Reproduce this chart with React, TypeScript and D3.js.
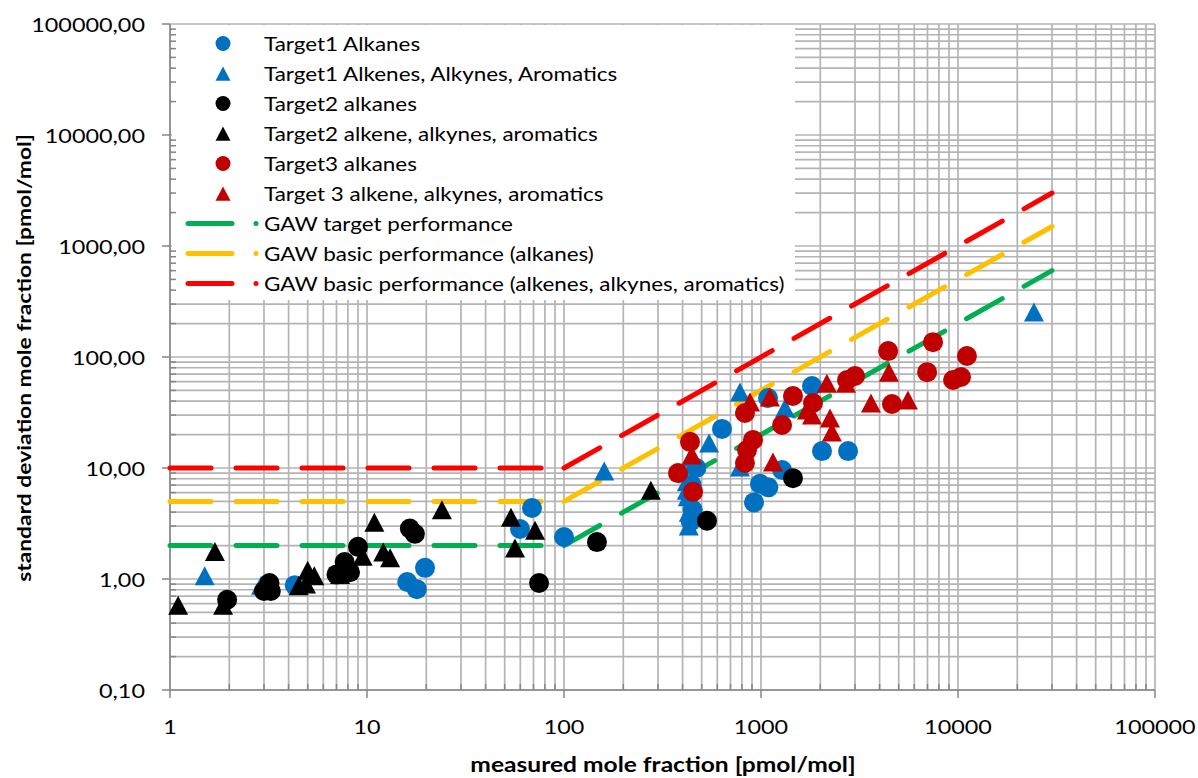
import React from "react";
import * as d3 from "d3";

const W = 1198;
const H = 778;
const PLOT = { left: 170, right: 1155, top: 24, bottom: 690 };

const FONT = "Lato, 'Open Sans', 'DejaVu Sans', sans-serif";
const STRETCH = 1.17;

// Axis domains and tick labels
const xDomain = [1, 100000];
const yDomain = [0.1, 100000];
const xTickValues = [1, 10, 100, 1000, 10000, 100000];
const xTickLabels = ["1", "10", "100", "1000", "10000", "100000"];
const yTickValues = [0.1, 1, 10, 100, 1000, 10000, 100000];
const yTickLabels = ["0,10", "1,00", "10,00", "100,00", "1000,00", "10000,00", "100000,00"];

// Measurements: [measured mole fraction, standard deviation] in pmol/mol
const target1Alkanes: [number, number][] = [
  [4.3, 0.88], [16.0, 0.94], [17.9, 0.81], [19.7, 1.26], [59.8, 2.82], [68.8, 4.36],
  [100, 2.39], [440, 3.3], [450, 4.2], [445, 7.0], [470, 10.0], [634, 22.5],
  [921, 4.9], [988, 7.2], [1090, 6.7], [1280, 9.6], [1086, 42.7], [1815, 54.8],
  [2040, 14.2], [2766, 14.2],
];
const target1Alkenes: [number, number][] = [
  [1.5, 1.07], [2.9, 0.88], [160, 9.4], [430, 3.0], [430, 4.0], [420, 6.3],
  [425, 5.5], [420, 7.5], [440, 12.5], [545, 16.8], [782, 10.2], [782, 48.4],
  [1324, 34.7], [24300, 254],
];
const target2Alkanes: [number, number][] = [
  [1.95, 0.65], [3.0, 0.78], [3.2, 0.92], [3.25, 0.78], [7.0, 1.1], [7.7, 1.42],
  [8.2, 1.15], [9.0, 1.95], [16.5, 2.85], [17.5, 2.55], [74.7, 0.92], [147, 2.15],
  [532, 3.35], [1453, 8.1],
];
const target2Alkenes: [number, number][] = [
  [1.1, 0.58], [1.69, 1.77], [1.86, 0.58], [4.5, 0.87], [4.9, 0.9], [5.0, 1.2],
  [5.4, 1.07], [7.3, 1.1], [9.5, 1.6], [10.9, 3.25], [12.1, 1.75], [13.1, 1.55],
  [24, 4.2], [53.8, 3.6], [56.4, 1.9], [71.3, 2.75], [276, 6.3],
];
const target3Alkanes: [number, number][] = [
  [379, 9.0], [436, 17.2], [452, 6.1], [829, 11.1], [849, 14.5], [911, 17.9],
  [829, 31.3], [1279, 24.4], [1453, 44.5], [1836, 38.5], [2733, 62], [3000, 67.5],
  [4420, 113], [4620, 37.7], [6970, 73], [7470, 136], [9440, 62], [10360, 66],
  [11100, 102],
];
const target3Alkenes: [number, number][] = [
  [446, 13.1], [880, 39.3], [1110, 43.6], [1150, 11.3], [1710, 33.3], [1815, 30],
  [2160, 58], [2240, 28.2], [2290, 21.1], [2700, 58], [3615, 38.5], [4460, 73],
  [5570, 41],
];

// GAW performance criteria: fixed floor below 100 pmol/mol, relative above
const gawNames = [
  "GAW target performance",
  "GAW basic performance (alkanes)",
  "GAW basic performance (alkenes, alkynes, aromatics)",
];
const gawColors = ["#00B050", "#FFC000", "#FF0000"];
const gawFloor = [2, 5, 10];
const gawRelative = [0.02, 0.05, 0.1];
const gawFlatRange = [1, 100];
const gawSlopeRange = [100, 30000];

const seriesNames = [
  "Target1 Alkanes",
  "Target1 Alkenes, Alkynes, Aromatics",
  "Target2 alkanes",
  "Target2 alkene, alkynes, aromatics",
  "Target3 alkanes",
  "Target 3 alkene, alkynes, aromatics",
];
const seriesColors = ["#0070C0", "#0070C0", "#000000", "#000000", "#C00000", "#C00000"];
const seriesShapes = ["circle", "triangle", "circle", "triangle", "circle", "triangle"];
const seriesData = [target1Alkanes, target1Alkenes, target2Alkanes, target2Alkenes, target3Alkanes, target3Alkenes];

const x = d3.scaleLog().domain(xDomain).range([PLOT.left, PLOT.right]);
const y = d3.scaleLog().domain(yDomain).range([PLOT.bottom, PLOT.top]);

function minorValues(lo: number, hi: number): number[] {
  const out: number[] = [];
  for (let d = lo; d < hi; d *= 10) {
    for (let k = 2; k <= 9; k++) out.push(d * k);
  }
  return out;
}

function Marker({ shape, cx, cy, size, color }: { shape: string; cx: number; cy: number; size: number; color: string }) {
  if (shape === "circle") return <circle cx={cx} cy={cy} r={size / 2} fill={color} />;
  const h = size * 0.95;
  const w = size;
  const p = `M${cx},${cy - h / 2}L${cx + w / 2},${cy + h / 2}L${cx - w / 2},${cy + h / 2}Z`;
  return <path d={p} fill={color} />;
}

function Txt({ x: tx, y: ty, anchor = "start", size, weight = 400, rotate = 0, children }: any) {
  const t = `translate(${tx},${ty})${rotate ? ` rotate(${rotate})` : ""} scale(${STRETCH},1)`;
  return (
    <text transform={t} textAnchor={anchor} fontFamily={FONT} fontSize={size} fontWeight={weight} fill="#000">
      {children}
    </text>
  );
}

export default function App() {
  const xMinor = minorValues(1, 100000);
  const yMinor = minorValues(0.1, 100000);
  const gridColor = "#B4B4B4";
  const axisColor = "#868686";

  const line = d3
    .line<[number, number]>()
    .x((d) => x(d[0]))
    .y((d) => y(d[1]));

  const legendTop = 43.5;
  const legendStep = 30;

  return (
    <svg width={W} height={H} style={{ position: "absolute", left: 0, top: 0, background: "#fff" }}>
      {/* grid */}
      <g stroke={gridColor} strokeWidth={1.7}>
        {[...xMinor, ...xTickValues].map((v, i) => (
          <line key={"gx" + i} x1={x(v)} x2={x(v)} y1={PLOT.top} y2={PLOT.bottom} />
        ))}
        {[...yMinor, ...yTickValues].map((v, i) => (
          <line key={"gy" + i} x1={PLOT.left} x2={PLOT.right} y1={y(v)} y2={y(v)} />
        ))}
      </g>

      {/* legend background */}
      <rect x={PLOT.left + 2} y={PLOT.top + 1} width={623} height={275} fill="#fff" />

      {/* axes */}
      <g stroke={axisColor} strokeWidth={1.5}>
        <line x1={PLOT.left} x2={PLOT.left} y1={PLOT.top} y2={PLOT.bottom} />
        <line x1={PLOT.left} x2={PLOT.right} y1={PLOT.bottom} y2={PLOT.bottom} />
        {yTickValues.map((v, i) => (
          <line key={"ty" + i} x1={PLOT.left - 8} x2={PLOT.left} y1={y(v)} y2={y(v)} />
        ))}
        {yMinor.map((v, i) => (
          <line key={"tym" + i} x1={PLOT.left} x2={PLOT.left + 6} y1={y(v)} y2={y(v)} />
        ))}
        {xTickValues.map((v, i) => (
          <line key={"tx" + i} x1={x(v)} x2={x(v)} y1={PLOT.bottom} y2={PLOT.bottom + 8} />
        ))}
        {xMinor.map((v, i) => (
          <line key={"txm" + i} x1={x(v)} x2={x(v)} y1={PLOT.bottom - 6} y2={PLOT.bottom} />
        ))}
      </g>

      {/* tick labels */}
      {yTickValues.map((v, i) => (
        <Txt key={"ly" + i} x={145} y={y(v) + 8} anchor="end" size={20}>
          {yTickLabels[i]}
        </Txt>
      ))}
      {xTickValues.map((v, i) => (
        <Txt key={"lx" + i} x={x(v)} y={734} anchor="middle" size={20}>
          {xTickLabels[i]}
        </Txt>
      ))}

      {/* axis titles */}
      <Txt x={663} y={772} anchor="middle" size={21} weight={700}>
        measured mole fraction [pmol/mol]
      </Txt>
      <Txt x={31} y={358} anchor="middle" size={19.5} weight={700} rotate={-90}>
        standard deviation mole fraction [pmol/mol]
      </Txt>

      {/* GAW criteria lines */}
      <g fill="none" strokeWidth={5} strokeLinecap="round" strokeDasharray="41 25">
        {gawFloor.map((f, i) => (
          <g key={"gaw" + i} stroke={gawColors[i]}>
            <path d={line(gawFlatRange.map((v) => [v, f]) as [number, number][]) || ""} />
            <path d={line(gawSlopeRange.map((v) => [v, v * gawRelative[i]]) as [number, number][]) || ""} />
          </g>
        ))}
      </g>

      {/* measurement series */}
      {seriesData.map((data, si) => (
        <g key={"s" + si}>
          {data.map((d, j) => (
            <Marker key={j} shape={seriesShapes[si]} cx={x(d[0])} cy={y(d[1])} size={20} color={seriesColors[si]} />
          ))}
        </g>
      ))}

      {/* legend */}
      {seriesNames.map((name, i) => {
        const cy = legendTop + i * legendStep;
        return (
          <g key={"leg" + i}>
            <Marker shape={seriesShapes[i]} cx={223} cy={cy} size={15} color={seriesColors[i]} />
            <Txt x={264} y={cy + 7} size={19.2}>
              {name}
            </Txt>
          </g>
        );
      })}
      {gawNames.map((name, i) => {
        const cy = legendTop + (seriesNames.length + i) * legendStep;
        return (
          <g key={"legg" + i}>
            <line x1={188} x2={232} y1={cy} y2={cy} stroke={gawColors[i]} strokeWidth={5} strokeLinecap="round" />
            <circle cx={256} cy={cy} r={2.5} fill={gawColors[i]} />
            <Txt x={264} y={cy + 7} size={19.2}>
              {name}
            </Txt>
          </g>
        );
      })}
    </svg>
  );
}
